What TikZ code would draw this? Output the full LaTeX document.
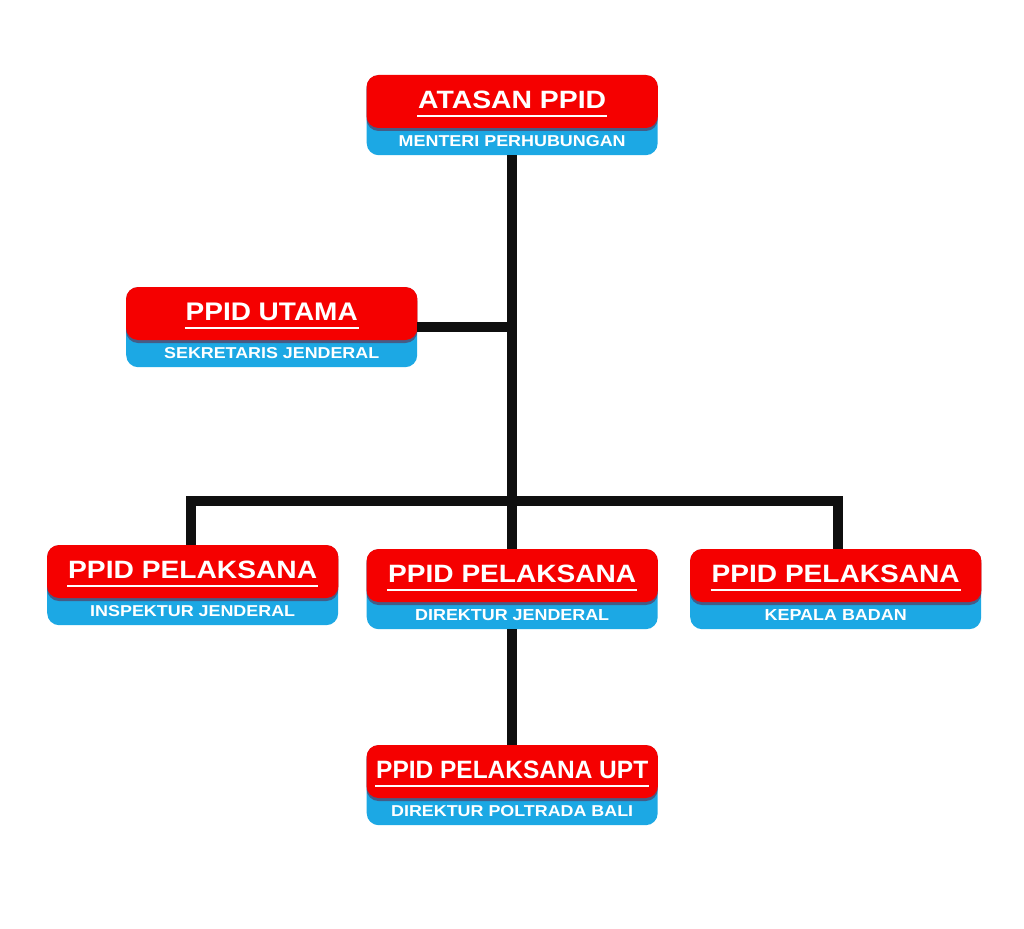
\documentclass[tikz,border=0pt]{standalone}
\usepackage{fontspec}
\setmainfont{Liberation Sans}
\usepackage{graphicx}
\definecolor{boxred}{RGB}{245,0,0}
\definecolor{boxblue}{RGB}{28,168,228}
\definecolor{shadred}{RGB}{120,0,20}
\definecolor{linkblack}{RGB}{15,15,15}
\tikzset{
  bluebox/.style={fill=boxblue, rounded corners=12pt, minimum height=80pt, inner sep=0pt, anchor=north west},
  redpart/.style={fill=boxred, rounded corners=12pt},
  redshadow/.style={fill=shadred, opacity=0.45, rounded corners=12pt},
  titletext/.style={text=white, font=\bfseries, inner sep=0pt},
  subtext/.style={text=white, font=\bfseries, inner sep=0pt},
  uline/.style={draw=white, line width=2.8pt},
  link/.style={draw=linkblack, line width=10pt}
}
% name, left x, top y, width, title, title width, sub, sub width
\newcommand\orgbox[8]{%
  \node[bluebox, minimum width=#4pt] (#1) at (#2,#3) {};
  \fill[redshadow] ([yshift=-3pt]#1.north west) rectangle ([yshift=-56pt]#1.north east);
  \fill[redpart] (#1.north west) rectangle ([yshift=-53pt]#1.north east);
  \node[titletext] (#1-title) at ([yshift=-25pt]#1.north) {\resizebox{#6pt}{17.5pt}{#5}};
  \draw[uline] ([yshift=-41pt,xshift={-(#6/2+1)*1pt}]#1.north) -- ([yshift=-41pt,xshift={(#6/2+1)*1pt}]#1.north);
  \node[subtext] (#1-sub) at ([yshift=-66pt]#1.north) {\resizebox{#8pt}{11pt}{#7}};
}
\begin{document}
\begin{tikzpicture}[x=1pt,y=-1pt]
\useasboundingbox (0,0) rectangle (1024,928);
\fill[white] (0,0) rectangle (1024,928);
\orgbox{A}{366.5}{75}{291}{ATASAN PPID}{188}{MENTERI PERHUBUNGAN}{227}
\orgbox{U}{126}{287}{291}{PPID UTAMA}{172}{SEKRETARIS JENDERAL}{215}
\orgbox{L}{47}{545}{291}{PPID PELAKSANA}{249}{INSPEKTUR JENDERAL}{205}
\orgbox{M}{366.5}{549}{291}{PPID PELAKSANA}{248}{DIREKTUR JENDERAL}{194}
\orgbox{R}{690}{549}{291}{PPID PELAKSANA}{248}{KEPALA BADAN}{142}
\orgbox{B}{366.5}{745}{291}{PPID PELAKSANA UPT}{272}{DIREKTUR POLTRADA BALI}{242}
\coordinate (bar) at (512,501);
\draw[link] (A.south) -- (M.north);
\draw[link] (U.east) -- (U.east -| A.south);
\draw[link] ([xshift=-2pt]L.north) |- (bar) -| ([xshift=2pt]R.north);
\draw[link] (M.south) -- (B.north);
\end{tikzpicture}
\end{document}
